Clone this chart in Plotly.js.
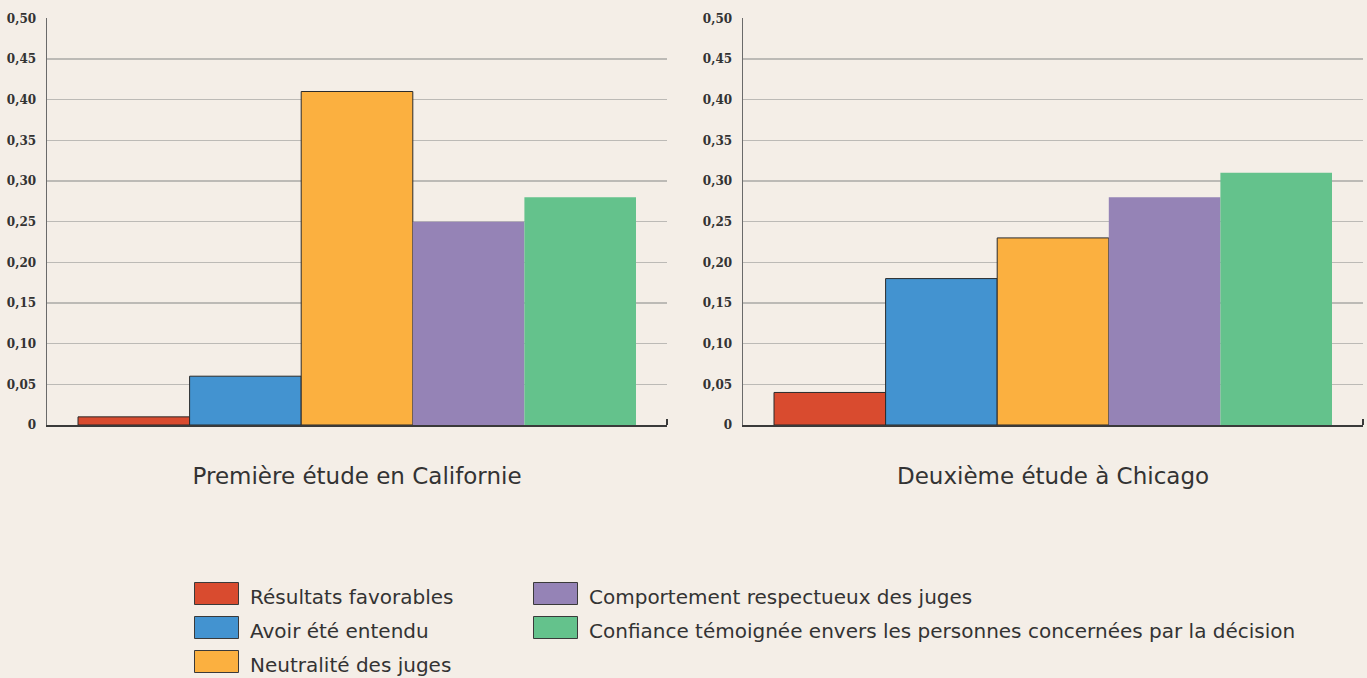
<!DOCTYPE html>
<html>
<head>
<meta charset="utf-8">
<script src="https://cdn.plot.ly/plotly-3.0.1.min.js"></script>
<style>
  html, body { margin: 0; padding: 0; background: #f4eee7; }
  #chart { width: 1367px; height: 678px; }
</style>
</head>
<body>
<div id="chart"></div>
<script>
  // études (une par sous-graphique)
  const studies = ['Première étude en Californie', 'Deuxième étude à Chicago'];
  const seriesNames = [
    'Résultats favorables',
    'Avoir été entendu',
    'Neutralité des juges',
    'Comportement respectueux des juges',
    'Confiance témoignée envers les personnes concernées par la décision',
  ];
  const californie = [0.01, 0.06, 0.41, 0.25, 0.28];
  const chicago = [0.04, 0.18, 0.23, 0.28, 0.31];
  const yTickVals = [0, 0.05, 0.10, 0.15, 0.20, 0.25, 0.30, 0.35, 0.40, 0.45, 0.50];
  const yTickText = ['0', '0,05', '0,10', '0,15', '0,20', '0,25', '0,30', '0,35', '0,40', '0,45', '0,50'];

  const COLORS = ['#d94b2f', '#4393d0', '#fbb040', '#9583b6', '#64c28c'];
  const OUTLINED = [true, true, true, false, false];
  const BG = '#f4eee7';
  const INK = '#333333';

  const traces = [];
  seriesNames.forEach((name, i) => {
    const line = OUTLINED[i] ? { color: '#2b2b2b', width: 1 } : { width: 0 };
    [californie, chicago].forEach((vals, k) => {
      traces.push({
        type: 'bar',
        x: [studies[k]],
        y: [vals[i]],
        xaxis: k === 0 ? 'x' : 'x2',
        yaxis: k === 0 ? 'y' : 'y2',
        name: name,
        legendgroup: 's' + i,
        legend: i < 3 ? 'legend' : 'legend2',
        showlegend: k === 0,
        marker: { color: COLORS[i], line: line },
        hoverinfo: 'skip',
      });
    });
  });

  const yAxis = (anchor) => ({
    anchor: anchor,
    domain: [1 - 425 / 678, 1 - 18.3 / 678],
    range: [0, 0.5],
    tickvals: yTickVals,
    ticktext: yTickText,
    tickfont: { family: 'DejaVu Serif', size: 12, color: INK, weight: 'bold' },
    ticks: '',
    ticklabelstandoff: 7,
    showgrid: true,
    gridcolor: '#bcbab6',
    gridwidth: 1.5,
    zeroline: false,
    showline: true,
    linecolor: '#6a6a6a',
    linewidth: 1.5,
    fixedrange: true,
  });

  const xAxis = (anchor, domain) => ({
    anchor: anchor,
    domain: domain,
    type: 'category',
    tickfont: { family: 'DejaVu Sans', size: 23, color: INK },
    ticks: '',
    ticklabelstandoff: 29,
    showline: true,
    linecolor: '#3a3a3a',
    linewidth: 2,
    showgrid: false,
    zeroline: false,
    fixedrange: true,
  });

  const legendBase = {
    orientation: 'v',
    xanchor: 'left',
    yanchor: 'top',
    bgcolor: 'rgba(0,0,0,0)',
    font: { family: 'DejaVu Sans', size: 20, color: INK },
    itemwidth: 57,
    tracegroupgap: 5,
    itemclick: false,
    itemdoubleclick: false,
  };

  const endTick = (xref, yref) => ({
    type: 'line', xref: xref, yref: yref,
    x0: 1, x1: 1, y0: 0, y1: 0.0075,
    line: { color: '#3a3a3a', width: 2 },
  });

  const layout = {
    width: 1367,
    height: 678,
    paper_bgcolor: BG,
    plot_bgcolor: BG,
    margin: { t: 0, r: 0, b: 0, l: 0, autoexpand: false },
    barmode: 'group',
    bargap: 0.1,
    bargroupgap: 0,
    showlegend: true,
    xaxis: xAxis('y', [47 / 1367, 667 / 1367]),
    yaxis: yAxis('x'),
    xaxis2: xAxis('y2', [743 / 1367, 1363 / 1367]),
    yaxis2: yAxis('x2'),
    legend: { ...legendBase, x: 183 / 1367, y: 1 - 577 / 678 },
    legend2: { ...legendBase, x: 522 / 1367, y: 1 - 577 / 678 },
    shapes: [endTick('x domain', 'y'), endTick('x2 domain', 'y2')],
  };

  // pastilles de légende rectangulaires, comme dans l'original
  function widenSwatches(gd) {
    gd.querySelectorAll('.infolayer .legendpoints path').forEach((p) => {
      p.setAttribute('d', 'M22,8H-22V-14H22Z');
      p.style.stroke = '#3a3a3a';
      p.style.strokeWidth = '1px';
    });
  }

  const gd = document.getElementById('chart');
  Plotly.newPlot(gd, traces, layout, { displayModeBar: false, staticPlot: true })
    .then(() => widenSwatches(gd));
</script>
</body>
</html>
